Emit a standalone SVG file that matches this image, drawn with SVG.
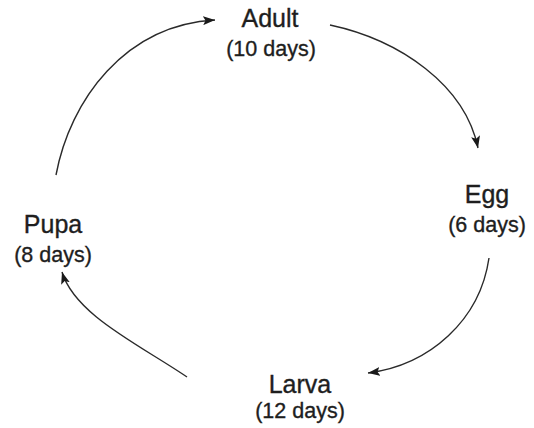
<svg xmlns="http://www.w3.org/2000/svg" width="534" height="428" viewBox="0 0 534 428">
<style>
.name{font-family:"Liberation Sans",Arial,sans-serif;font-size:25px;fill:#1e1e1e;stroke:#1e1e1e;stroke-width:0.35;text-anchor:middle}
.days{font-family:"Liberation Sans",Arial,sans-serif;font-size:21.5px;fill:#1e1e1e;stroke:#1e1e1e;stroke-width:0.35;text-anchor:middle}
.arr{fill:none;stroke:#2a2a2a;stroke-width:1.4;marker-end:url(#ah)}
</style>
<defs>
<marker id="ah" markerUnits="userSpaceOnUse" markerWidth="13" markerHeight="9" refX="12" refY="4.5" orient="auto">
<path d="M0,0 L12,4.5 L0,9 L2.5,4.5 z" fill="#1a1a1a"/>
</marker>
</defs>
<rect width="534" height="428" fill="#ffffff"/>
<g id="connectors">
<path class="arr" d="M56,175 C70,100 125,25 215,20"/>
<path class="arr" d="M330,25 C400,40 465,85 478,148"/>
<path class="arr" d="M489,258 C480,320 430,365 368,373"/>
<path class="arr" d="M187,377 C140,345 75,315 62,272"/>
</g>
<g id="adult"><text class="name" x="270" y="27">Adult</text><text class="days" x="271" y="56">(10 days)</text></g>
<g id="egg"><text class="name" x="487" y="203">Egg</text><text class="days" x="487" y="232">(6 days)</text></g>
<g id="larva"><text class="name" x="300" y="393">Larva</text><text class="days" x="300" y="418">(12 days)</text></g>
<g id="pupa"><text class="name" x="53" y="233">Pupa</text><text class="days" x="53" y="262">(8 days)</text></g>
</svg>
